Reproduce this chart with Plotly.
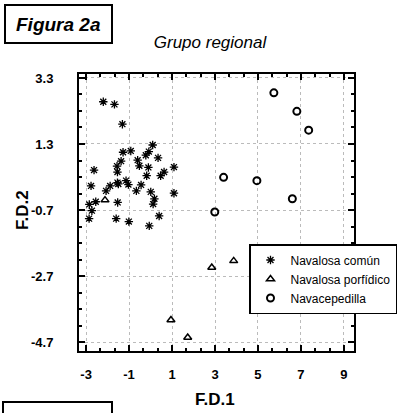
import plotly.graph_objects as go

# ---- data ----
comun_x = [-2.20, -1.68, -1.31, 0.10, -1.28, -0.92, -0.08, -0.22, 0.35, -1.37,
           -0.60, -1.56, -0.52, -2.63, -0.10, -1.54, 1.09, 0.63, 0.47, -0.18,
           -2.77, -1.54, -1.14, -1.03, -1.88, -0.44, -1.50, -2.07, -0.66, 0.01,
           1.09, -2.55, -1.53, 0.18, 0.12, -2.85, -2.73, -2.86, -1.60, -1.01,
           0.40, -0.06]
comun_y = [2.58, 2.50, 1.90, 1.27, 1.05, 1.09, 1.07, 0.96, 0.88, 0.78,
           0.81, 0.63, 0.64, 0.51, 0.59, 0.45, 0.60, 0.45, 0.34, 0.34,
           0.03, 0.13, 0.19, 0.07, 0.03, 0.06, 0.09, -0.12, -0.12, -0.15,
           -0.19, -0.45, -0.47, -0.36, -0.52, -0.53, -0.72, -0.96, -0.96, -1.05,
           -0.88, -1.18]
porf_x = [-2.12, 2.85, 3.87, 0.95, 1.73]
porf_y = [-0.40, -2.44, -2.24, -4.03, -4.56]
nava_x = [5.74, 6.81, 7.36, 3.40, 4.95, 6.60, 2.99]
nava_y = [2.85, 2.29, 1.72, 0.29, 0.19, -0.36, -0.76]

x_ticks = [-3, -1, 1, 3, 5, 7, 9]
y_ticks = [3.3, 1.3, -0.7, -2.7, -4.7]

FONT = "Liberation Sans, Arial, Helvetica, sans-serif"
W, H = 403, 413
L, R, T, B = 79, 354, 74, 351


def px(p):
    return (p - L) / (R - L)


def py(p):
    return (B - p) / (B - T)


fig = go.Figure()
fig.add_trace(go.Scatter(x=comun_x, y=comun_y, mode="markers", name="Navalosa común",
                         marker=dict(symbol="asterisk-open", size=7, color="black",
                                     line=dict(color="black", width=1.3))))
fig.add_trace(go.Scatter(x=porf_x, y=porf_y, mode="markers", name="Navalosa porfídico",
                         marker=dict(symbol="triangle-up-open", size=7, color="black",
                                     line=dict(color="black", width=1.5))))
fig.add_trace(go.Scatter(x=nava_x, y=nava_y, mode="markers", name="Navacepedilla",
                         marker=dict(symbol="circle-open", size=7, color="black",
                                     line=dict(color="black", width=2))))

axis_common = dict(showline=True, linecolor="black", linewidth=2, mirror="ticks",
                   ticks="inside", ticklen=6, tickwidth=1.5, tickcolor="black",
                   showgrid=True, gridcolor="#bbbbbb", griddash="dot", gridwidth=1,
                   zeroline=False,
                   tickfont=dict(family=FONT, size=13, color="black", weight="bold"))

fig.update_xaxes(**axis_common, range=[-3.33, 9.47], tickvals=x_ticks,
                 ticktext=[str(v) for v in x_ticks],
                 minor=dict(dtick=2 / 3, tick0=-3, ticks="inside", ticklen=3,
                            tickcolor="black", showgrid=False),
                 ticklabelstandoff=10)
fig.update_yaxes(**axis_common, range=[-4.97, 3.42], tickvals=y_ticks,
                 ticktext=[f"{v:.1f}" for v in y_ticks],
                 minor=dict(dtick=0.5, tick0=-4.7, ticks="inside", ticklen=3,
                            tickcolor="black", showgrid=False),
                 ticklabelstandoff=21)

fig.update_layout(
    width=W, height=H,
    margin=dict(l=L, r=W - R, t=T, b=H - B, autoexpand=False),
    paper_bgcolor="white", plot_bgcolor="white",
    title=dict(text="<i>Grupo regional</i>", x=210 / W, xanchor="center",
               y=1 - 42 / H, yanchor="middle",
               font=dict(family=FONT, size=17, color="black")),
    showlegend=True,
    legend=dict(x=px(249), xanchor="left", y=py(244), yanchor="top",
                bgcolor="white", bordercolor="black", borderwidth=1.5,
                itemwidth=30, tracegroupgap=0,
                font=dict(family=FONT, size=12, color="black")),
    shapes=[
        dict(type="rect", xref="paper", yref="paper",
             x0=px(5), x1=px(112), y0=py(43), y1=py(5),
             line=dict(color="black", width=2)),
        dict(type="rect", xref="paper", yref="paper",
             x0=px(3), x1=px(112), y0=py(430), y1=py(402),
             line=dict(color="black", width=2)),
    ],
    annotations=[
        dict(text="<b><i>Figura 2a</i></b>", xref="paper", yref="paper",
             x=px(58), y=py(24), xanchor="center", yanchor="middle", showarrow=False,
             font=dict(family=FONT, size=19, color="black")),
        dict(text="<b>F.D.1</b>", xref="paper", yref="paper",
             x=px(215), y=py(399), xanchor="center", yanchor="middle", showarrow=False,
             font=dict(family=FONT, size=17, color="black")),
        dict(text="<b>F.D.2</b>", xref="paper", yref="paper", textangle=-90,
             x=px(22), y=py(210), xanchor="center", yanchor="middle", showarrow=False,
             font=dict(family=FONT, size=17, color="black")),
    ],
)

fig.write_html("out.html", config={"displayModeBar": False},
               post_script="document.body.style.margin='0';")
